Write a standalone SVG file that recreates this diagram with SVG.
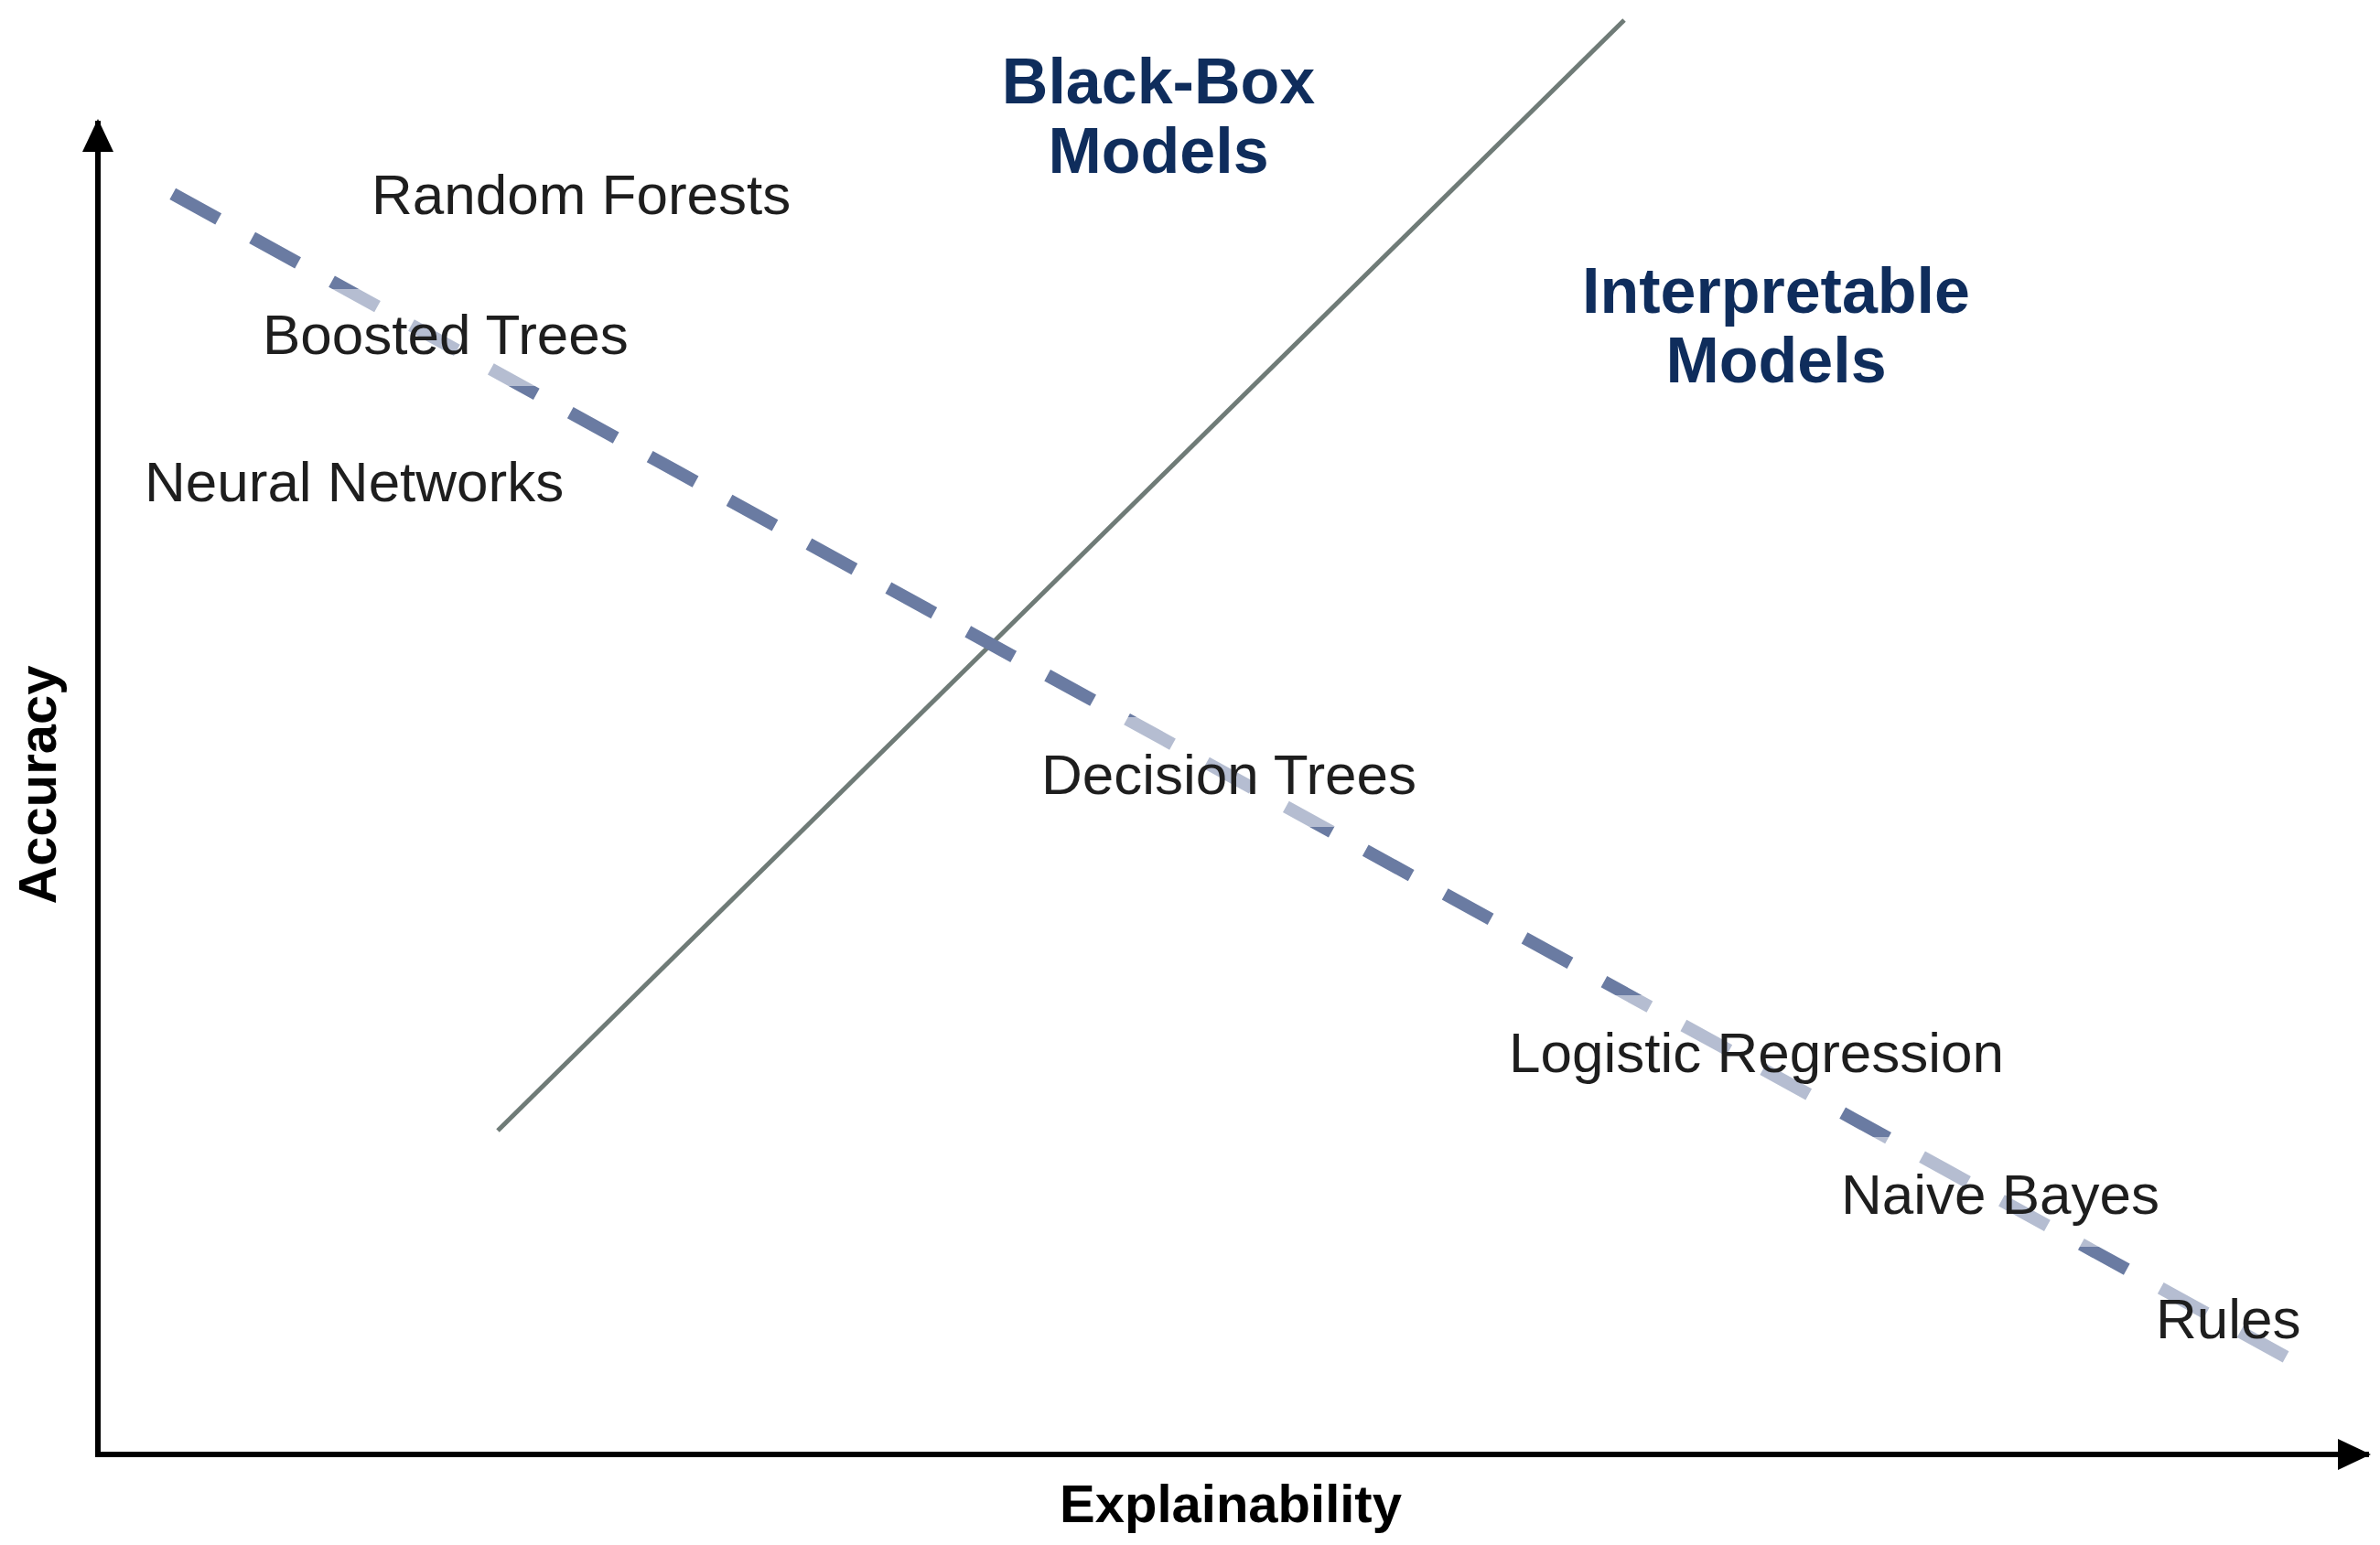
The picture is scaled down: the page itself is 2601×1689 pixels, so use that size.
<svg xmlns="http://www.w3.org/2000/svg" width="2601" height="1689" viewBox="0 0 2601 1689">
  <style>
    .lbl { font-family: "Liberation Sans", Arial, sans-serif; font-size: 62px; fill: #1e1e1e; }
    .cat { font-family: "Liberation Sans", Arial, sans-serif; font-size: 70px; font-weight: bold; fill: #0f2d5c; text-anchor: middle; }
    .ax { font-family: "Liberation Sans", Arial, sans-serif; font-size: 58px; font-weight: bold; fill: #000; text-anchor: middle; }
    .veil { fill: #ffffff; fill-opacity: 0.5; }
  </style>
  <defs>
    <marker id="arr" viewBox="0 0 36 36" refX="34" refY="18" markerWidth="36" markerHeight="36" markerUnits="userSpaceOnUse" orient="auto">
      <path d="M0,1 L36,18 L0,35 Z" fill="#000"/>
    </marker>
  </defs>
  <rect width="2601" height="1689" fill="#ffffff"/>

  <g id="connectors">
    <line id="boundary" x1="544" y1="1236" x2="1775" y2="22" stroke="#6f7b77" stroke-width="5"/>
    <line id="tradeoff" x1="187" y1="211" x2="2501" y2="1485" stroke="#6a7ba2" stroke-width="14" stroke-dasharray="57 42.2" stroke-dashoffset="-2"/>
    <path id="y-axis" d="M107,1590 L107,132" fill="none" stroke="#000" stroke-width="6" marker-end="url(#arr)"/>
    <path id="x-axis" d="M104,1590 L2589,1590" fill="none" stroke="#000" stroke-width="6" marker-end="url(#arr)"/>
  </g>

  <g id="random-forests">
    <text class="lbl" x="406" y="234">Random Forests</text>
  </g>
  <g id="boosted-trees">
    <rect class="veil" x="275" y="316" width="430" height="106"/>
    <text class="lbl" x="287" y="387">Boosted Trees</text>
  </g>
  <g id="neural-networks">
    <text class="lbl" x="158" y="548">Neural Networks</text>
  </g>
  <g id="decision-trees">
    <rect class="veil" x="1126" y="784" width="440" height="120"/>
    <text class="lbl" x="1138" y="868">Decision Trees</text>
  </g>
  <g id="logistic-regression">
    <rect class="veil" x="1637" y="1088" width="570" height="120"/>
    <text class="lbl" x="1649" y="1172">Logistic Regression</text>
  </g>
  <g id="naive-bayes">
    <rect class="veil" x="2000" y="1243" width="374" height="120"/>
    <text class="lbl" x="2012" y="1327">Naive Bayes</text>
  </g>
  <g id="rules">
    <rect class="veil" x="2344" y="1379" width="182" height="120"/>
    <text class="lbl" x="2356" y="1463">Rules</text>
  </g>

  <g id="black-box-models">
    <text class="cat" x="1266" y="113">Black-Box</text>
    <text class="cat" x="1266" y="189">Models</text>
  </g>
  <g id="interpretable-models">
    <text class="cat" x="1941" y="342">Interpretable</text>
    <text class="cat" x="1941" y="418">Models</text>
  </g>

  <g id="axis-labels">
    <text class="ax" x="1345" y="1664">Explainability</text>
    <text class="ax" transform="translate(61,858) rotate(-90)" x="0" y="0">Accuracy</text>
  </g>
</svg>
